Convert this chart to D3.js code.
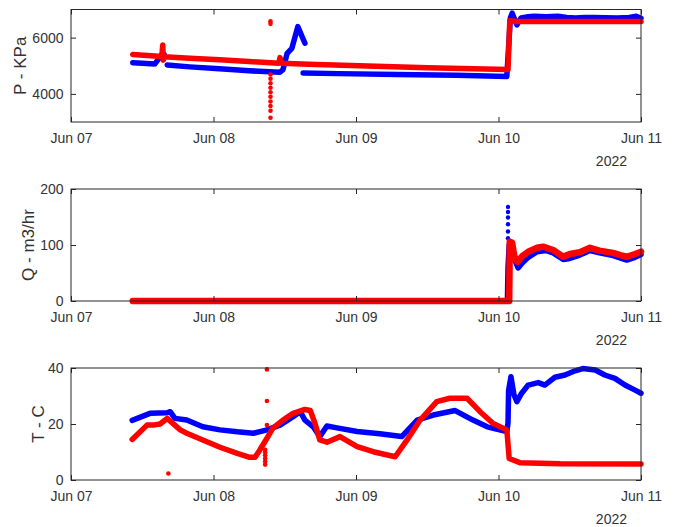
<!DOCTYPE html>
<html>
<head>
<meta charset="utf-8">
<script src="https://cdn.jsdelivr.net/npm/d3@7"></script>
<style>
  html, body { margin: 0; padding: 0; background: #fff; }
  svg { display: block; }
  text { font-family: Arial, "Liberation Sans", Helvetica, sans-serif; fill: #333; }
</style>
</head>
<body>
<svg id="chart" width="681" height="527"></svg>
<script>
// ---------------- DATA (hours since 2022-06-07 00:00) ----------------
const dayTicks = ["Jun 07", "Jun 08", "Jun 09", "Jun 10", "Jun 11"];
const yearLabel = "2022";
const pTicks = [4000, 6000];
const qTicks = [0, 100, 200];
const tTicks = [0, 20, 40];
const pLabel = "P - KPa", qLabel = "Q - m3/hr", tLabel = "T - C";

// Pressure (KPa)
const pBlue = [
  [10.4,5110],[12.0,5090],[14.1,5060],[14.6,5200],[15.2,5380],[15.7,5400],null,
  [16.2,5030],[20,4960],[25,4890],[30,4820],[35.2,4770],[35.7,4860],[36.4,5440],[37.2,5620],[38.2,6390],[39.4,5800],null,
  [39.1,4740],[45,4720],[55,4690],[65,4660],[73.4,4620],[74.0,6700],[74.3,6870],[75.1,6450],[75.8,6700],[77,6740],
  [78,6760],[80,6740],[82,6760],[83.5,6720],[85,6700],[86.5,6720],[88,6720],[90,6710],[92,6700],[94,6720],[95.2,6760],[96,6690]
];
const pRed = [
  [10.4,5400],[15.3,5330],[15.45,5740],[15.55,5200],[15.7,5320],[20,5270],[25,5210],[30,5150],[35.0,5090],[35.2,5290],[35.4,5090],
  [40,5050],[50,4990],[60,4930],[73.6,4870],[73.9,6600],[75,6570],[85,6570],[96,6570]
];
const pRedDots = [
  [33.6,6580],[33.6,6490],[33.6,4690],[33.6,4540],[33.6,4380],[33.6,4220],[33.6,4060],[33.6,3900],
  [33.6,3730],[33.6,3570],[33.6,3400],[33.6,3150]
];

// Flow (m3/hr)
const qBlue = [
  [10.4,0],[73.5,0],[73.6,60],[73.8,100],[74.5,80],[75.3,59],[76,68],[77,78],[78.5,88],[80,90],[81.2,86],
  [82.9,74],[84,76],[85.7,82],[87.4,90],[89,86],[91.3,81],[93.6,73],[95,78],[96,83]
];
const qBlueDots = [
  [73.6,168],[73.6,159],[73.6,149],[73.6,137],[73.6,124],[73.6,112],[73.6,8]
];
const qRed = [
  [10.4,0],[73.8,0],[73.9,106],[74.3,104],[74.7,78],[75.2,70],[76,80],[77,88],[78.5,95],[79.5,97],[81.2,91],
  [82.2,84],[82.9,79],[84,84],[85.7,87],[87.4,95],[89,90],[91.3,86],[92.5,82],[93.6,79],[95,84],[96,88]
];

// Temperature (C)
const tBlue = [
  [10.3,21.3],[13.3,23.8],[16.2,24.0],[16.7,24.4],[17.5,22.0],[19.5,21.4],[22.2,19.0],[25.1,17.9],[28,17.2],
  [30.7,16.7],[33,17.9],[35.2,19.6],[37.4,22.6],[38.6,24.4],[39.4,21.4],[40.8,19.0],[41.9,15.5],[43.1,19.3],
  [44.8,18.6],[48.2,17.3],[52,16.5],[55.7,15.5],[58.3,21.4],[61,23.2],[64.7,24.8],[67.7,21.4],[70.1,19.0],
  [73.4,17.3],[73.6,20.4],[73.7,32.0],[74.1,36.9],[74.6,30.5],[75.1,28.0],[75.9,31.0],[77.0,33.9],[78.7,34.8],
  [79.8,33.9],[81.5,36.7],[83.2,37.5],[84.9,39.0],[86.2,39.8],[88.3,39.3],[89.9,37.5],[91.6,36.3],[93.3,33.9],
  [95.0,32.1],[96,31.0]
];
const tRed = [
  [10.3,14.5],[12.8,19.6],[13.8,19.6],[15,20.0],[16.2,22.0],[18.4,17.9],[19.5,16.7],[22.2,14.3],[25.1,11.7],
  [28,9.5],[30.1,8.1],[31,8.1],[31.8,10.7],[33,14.9],[34,18.5],[35.7,21.4],[37.4,23.8],[39.4,25.2],[40.3,24.8],
  [41.1,20.2],[41.9,14.3],[43.1,13.5],[45.3,15.5],[48.2,11.9],[50.9,10.1],[54.6,8.3],[56.6,14.3],[58.8,21.4],
  [61.6,28.0],[63.8,29.2],[66.7,29.2],[68.9,24.4],[71.1,20.2],[73.4,17.9],[73.8,7.7],[75.6,6.2],[82.4,5.8],[96,5.7]
];
const tRedDots = [
  [16.4,2.3],[33.0,39.5],[33.0,28.2],[33.0,19.6],[32.7,5.5],[32.7,6.6],[32.7,7.7],[32.7,8.8],[32.7,9.9],[32.7,10.8]
];

// ---------------- DRAWING ----------------
const svg = d3.select("#chart");
const t0 = Date.UTC(2022, 5, 7);
const toDate = h => new Date(t0 + h * 3600e3);
const x = d3.scaleUtc().domain([toDate(0), toDate(96)]).range([71, 641]);
const dayDates = dayTicks.map((d, i) => toDate(i * 24));
const BLUE = "#0000ff", RED = "#ff0000", AX = "#262626";

function panel(top, bottom, domain, ticks, label, labelX, series) {
  const y = d3.scaleLinear().domain(domain).range([bottom, top]);
  const g = svg.append("g");
  const line = d3.line().defined(d => d != null)
    .x(d => x(toDate(d[0]))).y(d => y(d[1]));

  series.forEach(s => {
    if (s.type === "line") {
      g.append("path").datum(s.data)
        .attr("d", line)
        .attr("fill", "none").attr("stroke", s.color).attr("stroke-width", s.width || 5.5)
        .attr("stroke-linejoin", "round").attr("stroke-linecap", "round");
    } else {
      g.selectAll(null).data(s.data).enter().append("circle")
        .attr("cx", d => x(toDate(d[0]))).attr("cy", d => y(d[1]))
        .attr("r", s.r || 2.3).attr("fill", s.color);
    }
  });

  const fmt = (d, i) => dayTicks[i];
  const ab = g.append("g").attr("transform", `translate(0,${bottom})`)
    .call(d3.axisBottom(x).tickValues(dayDates).tickFormat(fmt).tickSize(-5).tickPadding(11));
  const at = g.append("g").attr("transform", `translate(0,${top})`)
    .call(d3.axisTop(x).tickValues(dayDates).tickFormat("").tickSize(-5));
  const al = g.append("g").attr("transform", `translate(71,0)`)
    .call(d3.axisLeft(y).tickValues(ticks).tickFormat(d3.format("d")).tickSize(-5).tickPadding(7.5));
  const ar = g.append("g").attr("transform", `translate(641,0)`)
    .call(d3.axisRight(y).tickValues(ticks).tickFormat("").tickSize(-5));
  [ab, at, al, ar].forEach(a => {
    a.select(".domain").remove();
    a.selectAll("line").attr("stroke", AX);
    a.selectAll("text").attr("font-size", 14).attr("fill", "#333")
      .style("font-family", 'Arial, "Liberation Sans", Helvetica, sans-serif');
  });
  g.append("rect").attr("x", 71).attr("y", top).attr("width", 570).attr("height", bottom - top)
    .attr("fill", "none").attr("stroke", AX).attr("stroke-width", 1);

  g.append("text").attr("x", 627).attr("y", bottom + 44).attr("text-anchor", "end")
    .attr("font-size", 14).text(yearLabel);

  const cy = (top + bottom) / 2;
  g.append("text").attr("transform", `translate(${labelX},${cy}) rotate(-90)`)
    .attr("text-anchor", "middle").attr("font-size", 17).text(label);
}

panel(9.5, 122, [3000, 7000], pTicks, pLabel, 26, [
  {type: "line", data: pBlue, color: BLUE},
  {type: "line", data: pRed, color: RED},
  {type: "dots", data: pRedDots, color: RED}
]);
panel(189, 301, [0, 200], qTicks, qLabel, 33.5, [
  {type: "line", data: qBlue, color: BLUE},
  {type: "dots", data: qBlueDots, color: BLUE, r: 2.2},
  {type: "line", data: qRed, color: RED, width: 6.5}
]);
panel(368, 480, [0, 40], tTicks, tLabel, 43.5, [
  {type: "line", data: tBlue, color: BLUE},
  {type: "line", data: tRed, color: RED},
  {type: "dots", data: tRedDots, color: RED}
]);
</script>
</body>
</html>
